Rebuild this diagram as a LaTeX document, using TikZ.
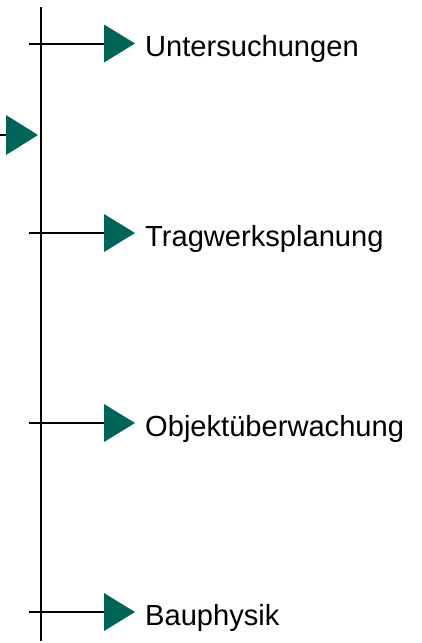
\documentclass[tikz,border=0pt]{standalone}
\usepackage{fontspec}
\setmainfont{Liberation Sans}
\definecolor{teal1}{RGB}{0,101,87}
\begin{document}
\begin{tikzpicture}[x=1pt,y=-1pt,
  spine/.style={line width=2pt,black},
  branch/.style={line width=2pt,black},
  tri/.style={fill=teal1,draw=none},
  lbl/.style={anchor=base west,inner sep=0pt,font=\fontsize{29.1}{32}\selectfont}]
\useasboundingbox (0,0) rectangle (422,643);
\coordinate (top) at (40.5,7);
\coordinate (bot) at (40.5,641);
\draw[spine] (top) -- (bot);
% left input
\coordinate (lin) at (0,135);
\coordinate (ltri) at (6,135);
\draw[branch] (lin) -- (ltri);
\fill[tri] (6,115) -- (38,135) -- (6,155) -- cycle;
% branches
\foreach \y/\t/\n in {43.5/Untersuchungen/a,233/Tragwerksplanung/b,423/Objektüberwachung/c,612/Bauphysik/d}{
  \coordinate (s\n) at (29,\y);
  \coordinate (e\n) at (104,\y);
  \draw[branch] (s\n) -- (e\n);
  \fill[tri] (104,\y-19) -- (135,\y) -- (104,\y+19) -- cycle;
  \node[lbl] (t\n) at (145,\y+13) {\t};
}
\end{tikzpicture}
\end{document}
